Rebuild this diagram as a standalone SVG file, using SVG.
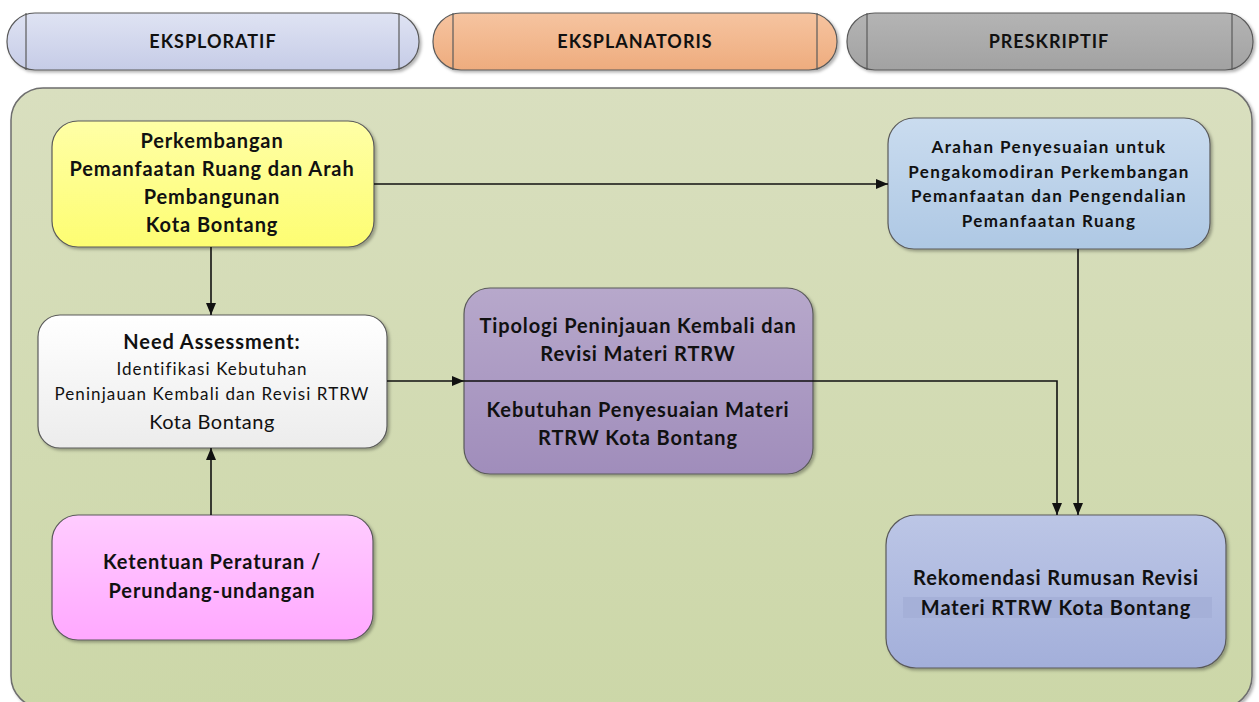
<svg xmlns="http://www.w3.org/2000/svg" width="1259" height="702" viewBox="0 0 1259 702">
<defs>
<style>
.t{font-family:Lato,"Liberation Sans",sans-serif;fill:#111;text-anchor:middle}
.b{font-weight:bold}
.m{font-size:20px;letter-spacing:0.9px}
.box{stroke:#5a5a5a;stroke-width:1.2}
.conn{fill:none;stroke:#111;stroke-width:1.6}
</style>
<linearGradient id="gBg" x1="0" y1="0" x2="0" y2="1"><stop offset="0" stop-color="#d9dfbf"/><stop offset="1" stop-color="#ccd7a8"/></linearGradient>
<linearGradient id="gH1" x1="0" y1="0" x2="0" y2="1"><stop offset="0" stop-color="#dfe3f3"/><stop offset="1" stop-color="#c6cce7"/></linearGradient>
<linearGradient id="gH2" x1="0" y1="0" x2="0" y2="1"><stop offset="0" stop-color="#f6c4a0"/><stop offset="1" stop-color="#eeac7e"/></linearGradient>
<linearGradient id="gH3" x1="0" y1="0" x2="0" y2="1"><stop offset="0" stop-color="#b4b4b4"/><stop offset="1" stop-color="#a2a2a2"/></linearGradient>
<linearGradient id="gY" x1="0" y1="0" x2="0" y2="1"><stop offset="0" stop-color="#ffffa6"/><stop offset="1" stop-color="#fdfd72"/></linearGradient>
<linearGradient id="gW" x1="0" y1="0" x2="0" y2="1"><stop offset="0" stop-color="#ffffff"/><stop offset="1" stop-color="#ececec"/></linearGradient>
<linearGradient id="gP" x1="0" y1="0" x2="0" y2="1"><stop offset="0" stop-color="#ffccff"/><stop offset="1" stop-color="#ffa8ff"/></linearGradient>
<linearGradient id="gV" x1="0" y1="0" x2="0" y2="1"><stop offset="0" stop-color="#b7a8cb"/><stop offset="1" stop-color="#a08dbb"/></linearGradient>
<linearGradient id="gB" x1="0" y1="0" x2="0" y2="1"><stop offset="0" stop-color="#cadcef"/><stop offset="1" stop-color="#aec8e4"/></linearGradient>
<linearGradient id="gR" x1="0" y1="0" x2="0" y2="1"><stop offset="0" stop-color="#bcc6e6"/><stop offset="1" stop-color="#a3afda"/></linearGradient>
<filter id="sh" x="-10%" y="-10%" width="125%" height="130%"><feDropShadow dx="2" dy="2" stdDeviation="1.5" flood-color="#000" flood-opacity="0.3"/></filter>
<marker id="ar" viewBox="0 0 12 10" refX="12" refY="5" markerWidth="12" markerHeight="10" markerUnits="userSpaceOnUse" orient="auto"><path d="M0,0 L12,5 L0,10 z" fill="#111"/></marker>
</defs>
<rect width="1259" height="702" fill="#fff"/>

<g id="headers">
<g id="h1" filter="url(#sh)">
<rect x="7" y="13" width="412" height="57" rx="28" class="box" fill="url(#gH1)"/>
<line x1="26" y1="13" x2="26" y2="70" stroke="#5a5a5a" stroke-width="1.2"/>
<line x1="399" y1="13" x2="399" y2="70" stroke="#5a5a5a" stroke-width="1.2"/>
</g>
<text class="t b" x="213" y="48" font-size="18" letter-spacing="1">EKSPLORATIF</text>
<g id="h2" filter="url(#sh)">
<rect x="433" y="13" width="404" height="57" rx="28" class="box" fill="url(#gH2)"/>
<line x1="453" y1="13" x2="453" y2="70" stroke="#5a5a5a" stroke-width="1.2"/>
<line x1="817" y1="13" x2="817" y2="70" stroke="#5a5a5a" stroke-width="1.2"/>
</g>
<text class="t b" x="635" y="48" font-size="18" letter-spacing="1">EKSPLANATORIS</text>
<g id="h3" filter="url(#sh)">
<rect x="847" y="13" width="406" height="57" rx="28" class="box" fill="url(#gH3)"/>
<line x1="867" y1="13" x2="867" y2="70" stroke="#5a5a5a" stroke-width="1.2"/>
<line x1="1232" y1="13" x2="1232" y2="70" stroke="#5a5a5a" stroke-width="1.2"/>
</g>
<text class="t b" x="1049" y="48" font-size="18" letter-spacing="1">PRESKRIPTIF</text>
</g>

<g id="container">
<rect x="11" y="88" width="1241" height="620" rx="32" fill="url(#gBg)" stroke="#6e6e6e" stroke-width="1.5" filter="url(#sh)"/>
</g>

<g id="n-yellow">
<rect x="52" y="121" width="322" height="126" rx="26" class="box" fill="url(#gY)" filter="url(#sh)"/>
<text class="t b m"><tspan x="212" y="148">Perkembangan</tspan><tspan x="212" y="176">Pemanfaatan Ruang dan Arah</tspan><tspan x="212" y="204">Pembangunan</tspan><tspan x="212" y="232">Kota Bontang</tspan></text>
</g>

<g id="n-need">
<rect x="38" y="315" width="349" height="133" rx="22" class="box" fill="url(#gW)" filter="url(#sh)"/>
<text class="t b m" x="212" y="349">Need Assessment:</text>
<text class="t" font-size="17" letter-spacing="1.1"><tspan x="212" y="375">Identifikasi Kebutuhan</tspan><tspan x="212" y="400">Peninjauan Kembali dan Revisi RTRW</tspan></text>
<text class="t" x="212" y="429" font-size="20" letter-spacing="0.5">Kota Bontang</text>
</g>

<g id="n-pink">
<rect x="52" y="515" width="321" height="125" rx="26" class="box" fill="url(#gP)" filter="url(#sh)"/>
<text class="t b m"><tspan x="212" y="569">Ketentuan Peraturan /</tspan><tspan x="212" y="598">Perundang-undangan</tspan></text>
</g>

<g id="n-purple">
<rect x="464" y="288" width="349" height="186" rx="26" class="box" fill="url(#gV)" filter="url(#sh)"/>
<text class="t b m"><tspan x="638" y="333">Tipologi Peninjauan Kembali dan</tspan><tspan x="638" y="361">Revisi Materi RTRW</tspan><tspan x="638" y="417">Kebutuhan Penyesuaian Materi</tspan><tspan x="638" y="445">RTRW Kota Bontang</tspan></text>
</g>

<g id="n-blue">
<rect x="888" y="118" width="322" height="131" rx="26" class="box" fill="url(#gB)" filter="url(#sh)"/>
<text class="t b" font-size="17" letter-spacing="1.4"><tspan x="1049" y="153">Arahan Penyesuaian untuk</tspan><tspan x="1049" y="178">Pengakomodiran Perkembangan</tspan><tspan x="1049" y="202">Pemanfaatan dan Pengendalian</tspan><tspan x="1049" y="227">Pemanfaatan Ruang</tspan></text>
</g>

<g id="n-rekom">
<rect x="886" y="515" width="340" height="153" rx="30" class="box" fill="url(#gR)" filter="url(#sh)"/>
<rect x="903" y="597" width="309" height="21" fill="#a5b0d8"/>
<text class="t b m"><tspan x="1056" y="585">Rekomendasi Rumusan Revisi</tspan><tspan x="1056" y="615">Materi RTRW Kota Bontang</tspan></text>
</g>

<g id="connectors">
<line class="conn" x1="374" y1="184" x2="888" y2="184" marker-end="url(#ar)"/>
<line class="conn" x1="211" y1="247" x2="211" y2="315" marker-end="url(#ar)"/>
<line class="conn" x1="211" y1="515" x2="211" y2="448" marker-end="url(#ar)"/>
<line class="conn" x1="387" y1="381" x2="464" y2="381" marker-end="url(#ar)"/>
<polyline class="conn" points="464,381 1057,381 1057,515" marker-end="url(#ar)"/>
<line class="conn" x1="1078" y1="249" x2="1078" y2="515" marker-end="url(#ar)"/>
</g>
</svg>
